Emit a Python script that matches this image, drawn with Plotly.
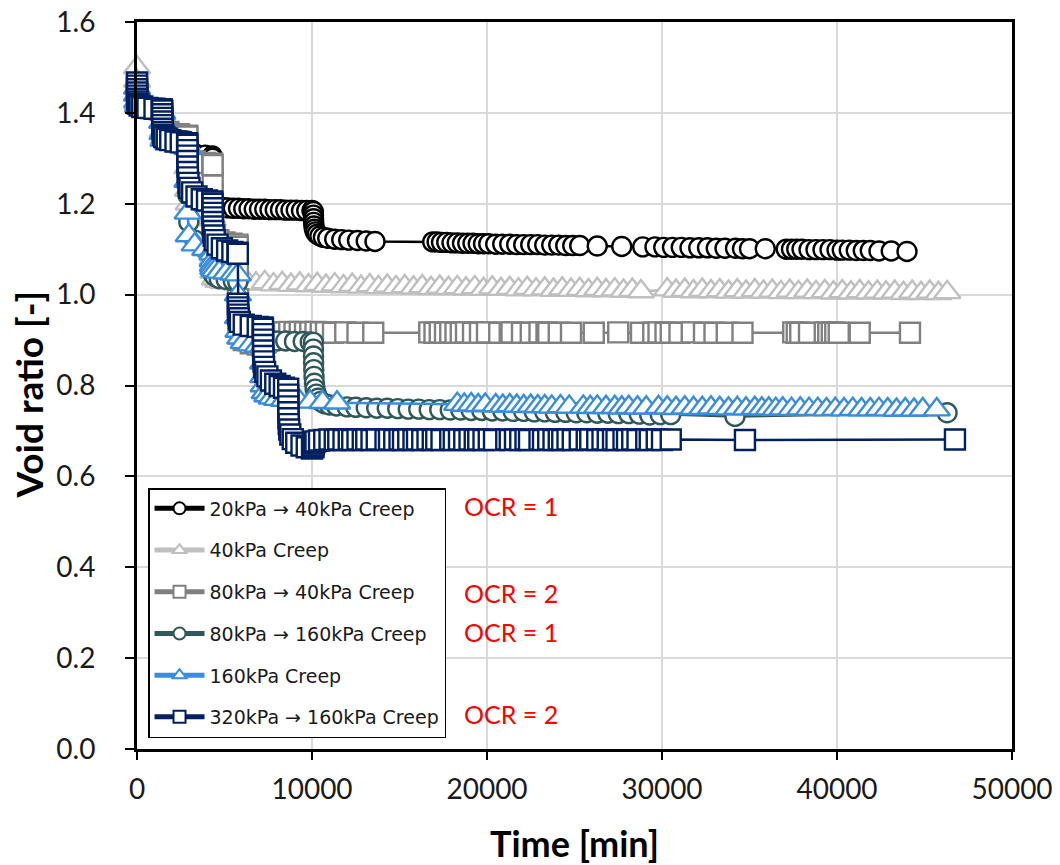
import plotly.graph_objects as go

# ---------------------------------------------------------------
# Oedometer creep tests: void ratio vs. elapsed time
# ---------------------------------------------------------------

# 20kPa -> 40kPa creep (OCR = 1)
t_20_40 = [0, 2, 10, 60, 300, 800, 1400,
           1440, 1445, 1460, 1520, 1800, 2400, 2860,
           2880, 2885, 2900, 2960, 3300, 3900, 4300,
           4320, 4325, 4335, 4360, 4450, 4650, 4900, 5200, 5500, 5800, 6100, 6400,
           6700, 7000, 7300, 7600, 7900, 8200, 8500, 8800, 9100, 9400, 9700, 10000,
           10080, 10083, 10088, 10095, 10110, 10140, 10200, 10300, 10450, 10650, 10900,
           11300, 11700, 12100, 12600, 13100, 13600,
           16900, 17150, 17400, 17700, 18000, 18300, 18600, 18900, 19200, 19500, 19800, 20100, 20500,
           20900, 21300, 21700, 22100, 22500, 22900, 23300, 23700, 24100, 24500, 24900, 25300,
           26300, 27700, 28900, 29600, 30100, 30600, 31100, 31600, 32100, 32600, 33100, 33600,
           34200, 34600, 35000, 35900, 37100, 37400, 37700, 38000, 38400, 38800, 39200, 39600,
           40000, 40300, 40700, 41100, 41500, 41900, 42400, 43100, 44000]
e_20_40 = [1.455, 1.44, 1.43, 1.42, 1.412, 1.407, 1.405,
           1.40, 1.385, 1.37, 1.36, 1.35, 1.343, 1.34,
           1.338, 1.33, 1.32, 1.315, 1.31, 1.307, 1.305,
           1.30, 1.27, 1.24, 1.215, 1.20, 1.195, 1.192, 1.191, 1.19, 1.19, 1.189, 1.189,
           1.188, 1.188, 1.188, 1.187, 1.187, 1.187, 1.186, 1.186, 1.186, 1.185, 1.185, 1.185,
           1.183, 1.175, 1.167, 1.159, 1.151, 1.144, 1.138, 1.133, 1.129, 1.126, 1.124,
           1.122, 1.121, 1.12, 1.119, 1.118, 1.117,
           1.116, 1.116, 1.115, 1.115, 1.114, 1.114, 1.113, 1.113, 1.113, 1.112, 1.112, 1.112, 1.111,
           1.111, 1.111, 1.110, 1.110, 1.110, 1.110, 1.109, 1.109, 1.109, 1.108, 1.108, 1.108,
           1.107, 1.106, 1.105, 1.105, 1.104, 1.104, 1.104, 1.103, 1.103, 1.103, 1.102, 1.102,
           1.102, 1.101, 1.101, 1.101, 1.100, 1.100, 1.100, 1.100, 1.099, 1.099, 1.099, 1.099,
           1.098, 1.098, 1.098, 1.097, 1.097, 1.097, 1.096, 1.096, 1.095]

# 40kPa creep
t_40 = [0, 2, 10, 60, 300, 800, 1400,
        1440, 1445, 1460, 1520, 1800, 2400, 2860,
        2880, 2885, 2900, 2960, 3300, 3900, 4300,
        4320, 4325, 4335, 4360, 4450, 4650, 4950,
        5300, 5800, 6300, 6800, 7300, 7800, 8300, 8800, 9300, 9800, 10300, 10800,
        11300, 11800, 12300, 12800, 13300, 13800, 14300, 14800, 15300, 15800, 16300, 16800,
        17300, 17800, 18300, 18800, 19300, 19800, 20300, 20800, 21300, 21800, 22300, 22800,
        23300, 23800, 24300, 24800, 25300, 25800, 26300, 26800, 27300, 27800, 28300, 28800,
        30300, 30800, 31300, 31800, 32300, 32800, 33300, 33800, 34300, 34800, 35300,
        35800, 36300, 36800, 37300, 37800, 38300, 38800, 39300, 39800, 40300, 40800,
        41300, 41800, 42300, 42800, 43300, 43800, 44300, 44800, 45300, 45800, 46300]
e_40 = [1.50, 1.47, 1.44, 1.42, 1.41, 1.405, 1.40,
        1.398, 1.38, 1.36, 1.345, 1.335, 1.33, 1.328,
        1.325, 1.28, 1.23, 1.20, 1.185, 1.175, 1.17,
        1.165, 1.12, 1.08, 1.05, 1.035, 1.03, 1.027,
        1.030, 1.026, 1.028, 1.024, 1.027, 1.022, 1.025, 1.021, 1.024, 1.020, 1.023, 1.019,
        1.022, 1.018, 1.021, 1.017, 1.020, 1.016, 1.019, 1.016, 1.018, 1.015, 1.018, 1.014,
        1.017, 1.014, 1.016, 1.013, 1.016, 1.012, 1.015, 1.012, 1.014, 1.011, 1.014, 1.011,
        1.013, 1.010, 1.013, 1.010, 1.012, 1.009, 1.012, 1.009, 1.011, 1.008, 1.010, 1.007,
        1.011, 1.008, 1.010, 1.007, 1.010, 1.007, 1.009, 1.006, 1.009, 1.006, 1.009,
        1.006, 1.008, 1.005, 1.008, 1.005, 1.008, 1.005, 1.007, 1.004, 1.007, 1.004,
        1.007, 1.004, 1.006, 1.004, 1.006, 1.003, 1.006, 1.003, 1.006, 1.003, 1.005]

# 80kPa -> 40kPa creep (OCR = 2)
t_80_40 = [0, 2, 10, 60, 300, 800, 1400,
           1440, 1445, 1460, 1520, 1800, 2400, 2860,
           2880, 2885, 2900, 2960, 3300, 3900, 4300,
           4320, 4325, 4335, 4360, 4450, 4650, 5000, 5400, 5740,
           5760, 5765, 5775, 5800, 5900, 6100, 6500, 6900, 7180,
           7200, 7210, 7240, 7300, 7500, 7800,
           8100, 8400, 8700, 9000, 9300, 9600, 9900, 10200, 10500, 10800, 11200, 11900, 12600, 13500,
           16700, 17000, 17300, 17600, 17900, 18200, 18500, 18800, 19200, 19600, 20000,
           20700, 21300, 21400, 22000, 22500, 23000, 23400, 23500, 24100, 24800,
           26100, 27500, 28800, 29500, 29800, 30200, 30500, 31000, 31700, 32400, 33000, 33700, 34600,
           37500, 37700, 37900, 38400, 39300, 39500, 39700, 39900, 40100, 41300, 44170]
e_80_40 = [1.455, 1.44, 1.43, 1.42, 1.415, 1.41, 1.408,
           1.405, 1.39, 1.375, 1.365, 1.358, 1.353, 1.35,
           1.348, 1.33, 1.31, 1.30, 1.293, 1.29, 1.288,
           1.285, 1.24, 1.19, 1.15, 1.13, 1.12, 1.115, 1.112, 1.11,
           1.105, 1.05, 0.99, 0.94, 0.915, 0.90, 0.893, 0.89, 0.888,
           0.895, 0.905, 0.91, 0.913, 0.915, 0.916,
           0.917, 0.917, 0.918, 0.917, 0.918, 0.917, 0.917, 0.918, 0.917, 0.917, 0.916, 0.917, 0.916, 0.916,
           0.917, 0.916, 0.917, 0.916, 0.917, 0.916, 0.916, 0.917, 0.916, 0.916, 0.917,
           0.916, 0.916, 0.917, 0.916, 0.916, 0.917, 0.916, 0.916, 0.916, 0.916,
           0.916, 0.917, 0.916, 0.916, 0.917, 0.916, 0.916, 0.916, 0.917, 0.916, 0.916, 0.916, 0.916,
           0.917, 0.916, 0.916, 0.916, 0.917, 0.916, 0.916, 0.916, 0.916, 0.916, 0.916]

# 80kPa -> 160kPa creep (OCR = 1)
t_80_160 = [0, 2, 10, 60, 300, 800, 1400,
            1440, 1445, 1460, 1520, 1800, 2400, 2860,
            2880, 2885, 2900, 2960, 3300, 3900, 4300,
            4320, 4325, 4335, 4360, 4450, 4700, 5100, 5500,
            5760, 5765, 5775, 5800, 5900, 6100, 6500, 7000,
            7500, 8000, 8500, 9000, 9500, 9900,
            10080, 10082, 10086, 10092, 10100, 10115, 10140, 10180, 10250, 10350, 10500,
            10700, 11000, 11400, 12000,
            12500, 13100, 13700, 14300, 14900, 15500, 16100, 16700, 17300, 17900, 18500,
            19100, 19700, 20300, 20900, 21500, 22100, 22700, 23300, 23900, 24500,
            25100, 25700, 26300, 26900, 27500, 28100, 28700, 29300, 29900, 30500,
            34170, 46290]
e_80_160 = [1.45, 1.44, 1.43, 1.42, 1.415, 1.41, 1.408,
            1.405, 1.385, 1.365, 1.35, 1.345, 1.34, 1.338,
            1.335, 1.28, 1.22, 1.16, 1.12, 1.10, 1.095,
            1.09, 1.07, 1.055, 1.045, 1.04, 1.035, 1.033, 1.03,
            1.028, 0.99, 0.95, 0.925, 0.91, 0.905, 0.902, 0.90,
            0.899, 0.898, 0.898, 0.897, 0.897, 0.896,
            0.895, 0.88, 0.865, 0.85, 0.835, 0.82, 0.805, 0.792, 0.781, 0.772, 0.765,
            0.76, 0.757, 0.755, 0.753,
            0.752, 0.751, 0.750, 0.750, 0.749, 0.748, 0.748, 0.747, 0.747, 0.746, 0.746,
            0.745, 0.745, 0.744, 0.744, 0.743, 0.743, 0.742, 0.742, 0.741, 0.741,
            0.740, 0.740, 0.739, 0.739, 0.738, 0.738, 0.737, 0.735, 0.736, 0.736,
            0.732, 0.740]

# 160kPa creep
t_160 = [0, 2, 10, 60, 300, 800, 1400,
         1440, 1445, 1460, 1520, 1800, 2400, 2860,
         2880, 2885, 2900, 2960, 3300, 3900, 4300,
         4320, 4325, 4335, 4360, 4450, 4700, 5100, 5500,
         5760, 5765, 5775, 5800, 5900, 6100, 6500, 6900,
         7200, 7205, 7215, 7240, 7300, 7450, 7700, 8000, 8400, 8800, 9300, 9900, 10600, 11430,
         18300, 18700, 19100, 19500, 19900, 20500, 20900, 21300, 21700, 22100,
         22500, 22900, 23300, 23700, 24200, 24700, 25500, 25900, 26300, 26800,
         27300, 27700, 28100, 28600, 29100, 29800, 30300, 30800, 31300, 31800,
         32300, 32800, 33300, 33800, 34300, 34800, 35300, 35700, 36100, 36500,
         36900, 37400, 37900, 38400, 38900, 39400, 39900, 40400, 40900, 41400,
         41900, 42400, 42900, 43400, 43900, 44400, 44900, 45700]
e_160 = [1.455, 1.44, 1.425, 1.415, 1.41, 1.405, 1.402,
         1.40, 1.38, 1.355, 1.34, 1.332, 1.328, 1.325,
         1.322, 1.25, 1.18, 1.13, 1.11, 1.10, 1.095,
         1.09, 1.075, 1.065, 1.058, 1.053, 1.05, 1.048, 1.046,
         1.044, 1.0, 0.95, 0.92, 0.905, 0.895, 0.89, 0.887,
         0.885, 0.85, 0.82, 0.80, 0.785, 0.778, 0.773, 0.77, 0.768, 0.766, 0.765, 0.764, 0.763, 0.762,
         0.759, 0.757, 0.758, 0.756, 0.757, 0.756, 0.755, 0.756, 0.755, 0.754,
         0.755, 0.754, 0.754, 0.753, 0.754, 0.753, 0.753, 0.752, 0.753, 0.752,
         0.752, 0.751, 0.752, 0.751, 0.751, 0.752, 0.751, 0.750, 0.751, 0.750,
         0.750, 0.751, 0.750, 0.749, 0.750, 0.749, 0.750, 0.749, 0.749, 0.748,
         0.749, 0.748, 0.749, 0.748, 0.748, 0.747, 0.748, 0.747, 0.748, 0.747,
         0.747, 0.748, 0.747, 0.746, 0.747, 0.746, 0.747, 0.747]

# 320kPa -> 160kPa creep (OCR = 2)
t_320_160 = [0, 1, 2, 4, 8, 15, 30, 60, 150, 300, 600, 1000, 1400,
             1440, 1441, 1442, 1444, 1448, 1455, 1470, 1500, 1560, 1700, 1900, 2200, 2500, 2860,
             2880, 2881, 2882, 2884, 2888, 2895, 2910, 2940, 3000, 3150, 3400, 3700, 4000, 4300,
             4320, 4321, 4322, 4324, 4328, 4335, 4350, 4380, 4440, 4600, 4850, 5150, 5450, 5740,
             5760, 5764, 5768, 5775, 5790, 5820, 5880, 6100, 6500, 6900, 7180,
             7200, 7201, 7202, 7204, 7208, 7215, 7230, 7260, 7320, 7450, 7650, 7900, 8150, 8400,
             8640, 8641, 8642, 8644, 8648, 8655, 8670, 8700, 8760, 8900, 9100, 9400, 9700, 10000,
             10080, 10085, 10095, 10120, 10200, 10400, 10700,
             11000, 11300, 11500, 11800, 12100, 12300, 12600, 12900, 13100, 13400,
             13700, 14200, 14400, 14700, 15000, 15200, 15500, 15800, 16000, 16300,
             16600, 16900, 17100, 17400, 17900, 18100, 18400, 18700, 19000, 19300,
             19500, 19800, 20100, 20400, 21100, 21300, 21600, 21900, 22200, 22400,
             23000, 23200, 23500, 23800, 24100, 24300, 24600, 24900, 25300, 25700,
             25900, 26300, 26600, 26900, 27200, 27400, 27800, 28000, 28300, 28600,
             29100, 29300, 29700, 30000, 30500, 34740, 46740]
e_320_160 = [1.467, 1.46, 1.452, 1.445, 1.438, 1.431, 1.425, 1.42, 1.416, 1.413, 1.411, 1.409, 1.408,
             1.405, 1.397, 1.389, 1.381, 1.373, 1.365, 1.358, 1.352, 1.347, 1.343, 1.34, 1.337, 1.335, 1.333,
             1.33, 1.318, 1.306, 1.294, 1.282, 1.27, 1.258, 1.246, 1.235, 1.225, 1.216, 1.21, 1.207, 1.205,
             1.20, 1.19, 1.18, 1.17, 1.16, 1.15, 1.14, 1.13, 1.12, 1.11, 1.102, 1.097, 1.094, 1.092,
             1.09, 0.98, 0.972, 0.964, 0.956, 0.948, 0.94, 0.934, 0.931, 0.929, 0.928,
             0.925, 0.913, 0.901, 0.889, 0.877, 0.865, 0.853, 0.841, 0.83, 0.82, 0.811, 0.804, 0.799, 0.795,
             0.793, 0.78, 0.767, 0.754, 0.741, 0.728, 0.715, 0.703, 0.692, 0.682, 0.674, 0.668, 0.664, 0.661,
             0.664, 0.668, 0.672, 0.675, 0.677, 0.679, 0.68,
             0.681, 0.680, 0.681, 0.680, 0.681, 0.680, 0.681, 0.680, 0.681, 0.680,
             0.681, 0.680, 0.681, 0.680, 0.681, 0.680, 0.681, 0.680, 0.681, 0.680,
             0.681, 0.680, 0.681, 0.680, 0.681, 0.680, 0.681, 0.680, 0.681, 0.680,
             0.681, 0.680, 0.681, 0.680, 0.681, 0.680, 0.681, 0.680, 0.681, 0.680,
             0.681, 0.680, 0.681, 0.680, 0.681, 0.680, 0.681, 0.680, 0.681, 0.680,
             0.681, 0.680, 0.681, 0.680, 0.681, 0.680, 0.681, 0.680, 0.681, 0.680,
             0.681, 0.680, 0.681, 0.680, 0.681, 0.680, 0.681]

series_names = ["20kPa → 40kPa Creep", "40kPa Creep", "80kPa → 40kPa Creep",
                "80kPa → 160kPa Creep", "160kPa Creep", "320kPa → 160kPa Creep"]
series_t = [t_20_40, t_40, t_80_40, t_80_160, t_160, t_320_160]
series_e = [e_20_40, e_40, e_80_40, e_80_160, e_160, e_320_160]
series_colors = ["#000000", "#BFBFBF", "#808080", "#2F5858", "#3A8DDE", "#002060"]
series_symbols = ["circle", "triangle-up", "square", "circle", "triangle-up", "square"]
series_sizes = [19, 23, 20, 19, 23, 20]

# Overconsolidation labels next to the legend entries
ocr_labels = ["OCR = 1", "OCR = 2", "OCR = 1", "OCR = 2"]
ocr_y = [0.535, 0.343, 0.2575, 0.077]
ocr_x = 18550

fig = go.Figure()
for name, t, e, col, sym, sz in zip(series_names, series_t, series_e,
                                    series_colors, series_symbols, series_sizes):
    fig.add_trace(go.Scatter(
        x=t, y=e, name=name, mode="lines+markers", legendgroup=name,
        line=dict(color=col, width=2.5),
        marker=dict(symbol=sym, size=sz, color="white",
                    line=dict(color=col, width=2.4)),
        cliponaxis=False,
    ))

for txt, yv in zip(ocr_labels, ocr_y):
    fig.add_annotation(x=ocr_x, y=yv, xref="x", yref="y", text=txt,
                       showarrow=False, xanchor="left", yanchor="middle",
                       font=dict(family="Lato", size=25, color="#FF0000"))

# axis titles
fig.add_annotation(x=0.5, y=0, xref="paper", yref="paper", yshift=-94,
                   text="<b>Time [min]</b>", showarrow=False,
                   xanchor="center", yanchor="middle",
                   font=dict(family="Lato", size=36, color="#000000"))
fig.add_annotation(x=0, y=0.5, xref="paper", yref="paper", xshift=-109, yshift=-9,
                   text="<b>Void ratio [-]</b>", showarrow=False, textangle=-90,
                   xanchor="center", yanchor="middle",
                   font=dict(family="Lato", size=37, color="#000000"))

axis_common = dict(showgrid=True, gridcolor="#D9D9D9", gridwidth=1.5,
                   showline=True, linecolor="black", linewidth=3, mirror=True,
                   ticks="outside", tickwidth=2, tickcolor="black",
                   zeroline=False, automargin=False,
                   tickfont=dict(family="Lato", size=28, color="#1A1A1A"))

fig.update_xaxes(range=[0, 50000], tick0=0, dtick=10000, ticklen=8, tickformat="d",
                 ticklabelstandoff=5, **axis_common)
fig.update_yaxes(range=[0, 1.6], tick0=0, dtick=0.2, tickformat=".1f", ticklen=9,
                 ticklabelstandoff=24, **axis_common)

fig.update_layout(
    width=1060, height=865, autosize=False,
    margin=dict(l=137, r=48, t=22, b=116),
    paper_bgcolor="white", plot_bgcolor="white",
    showlegend=True,
    legend=dict(x=0.0126, y=0.359, xanchor="left", yanchor="top",
                bgcolor="white", bordercolor="black", borderwidth=1.5,
                font=dict(family="DejaVu Sans", size=19, color="#1A1A1A"),
                itemsizing="constant", itemwidth=50, tracegroupgap=14),
)

fig.write_html("out.html")
